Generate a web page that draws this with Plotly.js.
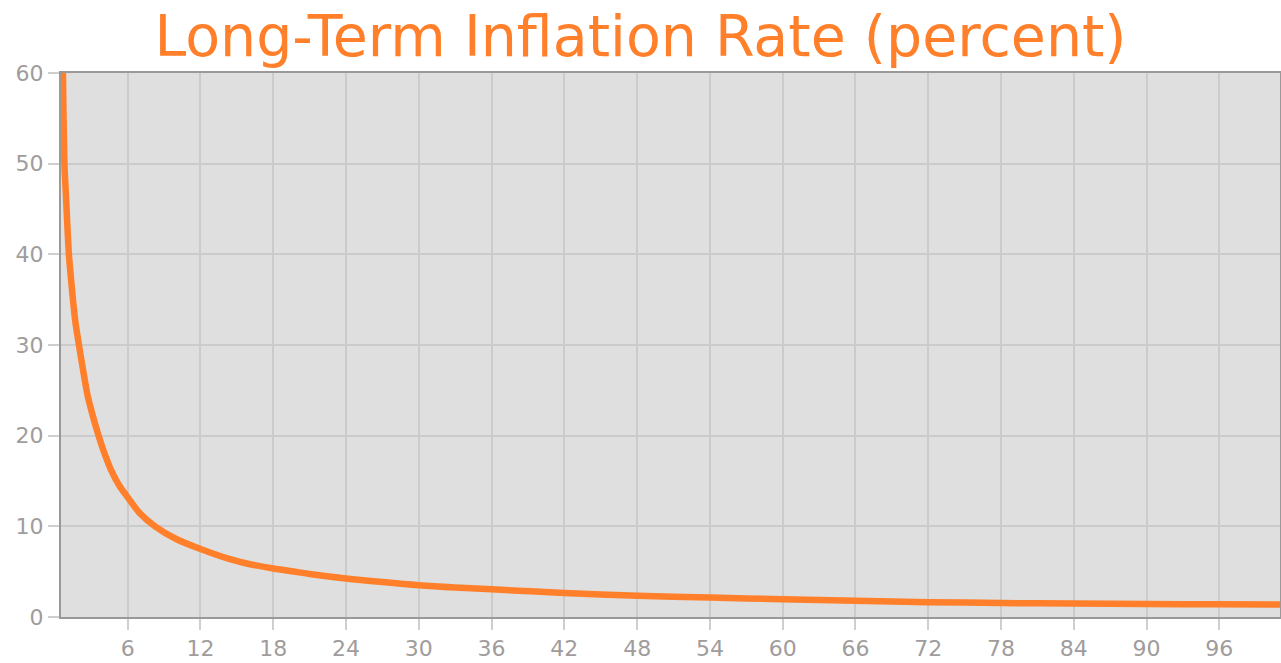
<!DOCTYPE html>
<html>
<head>
<meta charset="utf-8">
<script src="https://cdn.plot.ly/plotly-3.0.1.min.js"></script>
<style>html,body{margin:0;padding:0;background:#fff;}#chart{width:1281px;height:663px;}</style>
</head>
<body>
<div id="chart"></div>
<script>
// Horizon (years) and long-term inflation rate (percent)
const years = [0.62, 0.66, 0.78, 0.9, 1.15, 1.3, 1.5, 1.7, 1.98, 2.3, 2.7, 3.1, 3.6, 4.1, 4.7, 5.3, 6, 7, 8.25, 10, 12, 14.5, 16, 18, 20, 21, 24, 27, 30, 33, 36, 42, 48, 54, 60, 66, 72, 78, 84, 90, 96, 101];
const inflation = [66, 60, 50, 46.7, 40, 37.7, 34.8, 32.4, 30, 27.4, 24.4, 22.3, 20, 18, 16, 14.5, 13.2, 11.45, 10, 8.6, 7.5, 6.35, 5.85, 5.35, 4.95, 4.75, 4.25, 3.85, 3.5, 3.25, 3.05, 2.65, 2.35, 2.15, 1.95, 1.78, 1.64, 1.54, 1.48, 1.43, 1.4, 1.37];
const xTicks = [6, 12, 18, 24, 30, 36, 42, 48, 54, 60, 66, 72, 78, 84, 90, 96];
const yTicks = [0, 10, 20, 30, 40, 50, 60];
const chartTitle = 'Long-Term Inflation Rate (percent)';

const orange = '#ff7f2a';
const trace = {
  x: years, y: inflation, type: 'scatter', mode: 'lines',
  line: {color: orange, width: 6.5, shape: 'spline', smoothing: 0.8},
  hoverinfo: 'x+y'
};
const axisCommon = {
  showgrid: true, gridcolor: '#cbcbcb', gridwidth: 1.5,
  showline: true, linecolor: '#999999', linewidth: 2, mirror: true,
  ticks: 'outside', ticklen: 11, tickwidth: 1.5, tickcolor: '#cfcfcf',
  tickfont: {family: 'DejaVu Sans, Verdana, sans-serif', size: 22, color: '#a09c9c'},
  zeroline: false, fixedrange: true
};
const layout = {
  width: 1281, height: 663,
  margin: {l: 61, r: 1, t: 73, b: 46},
  paper_bgcolor: '#ffffff', plot_bgcolor: '#dfdfdf',
  showlegend: false,
  title: {text: chartTitle, x: 0.5, xanchor: 'center', yref: 'container', y: 0.945, yanchor: 'middle',
          font: {family: 'DejaVu Sans, Verdana, sans-serif', size: 57, color: orange}},
  xaxis: Object.assign({}, axisCommon, {range: [0.5, 101], tickmode: 'array', tickvals: xTicks, ticktext: xTicks.map(String)}),
  yaxis: Object.assign({}, axisCommon, {range: [0, 60], tickmode: 'array', tickvals: yTicks, ticktext: yTicks.map(String)})
};
Plotly.newPlot('chart', [trace], layout, {displayModeBar: false});
</script>
</body>
</html>
